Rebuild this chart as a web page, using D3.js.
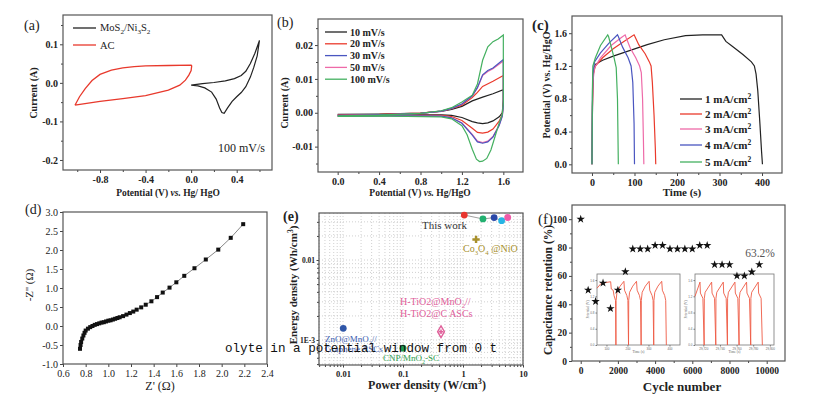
<!DOCTYPE html>
<html>
<head>
<meta charset="utf-8">
<script src="https://cdn.jsdelivr.net/npm/d3@7"></script>
<style>
body{margin:0;background:#fff;}
</style>
</head>
<body>
<svg id="fig" width="814" height="398"></svg>
<script>
// ---- (a) CV at 100 mV/s, [potential V, current A]
const cvAC = [[-1.02,-0.058],[-0.98,-0.036],[-0.93,-0.015],[-0.87,0.006],[-0.8,0.022],[-0.7,0.033],[-0.6,0.039],[-0.5,0.042],[-0.4,0.044],[-0.2,0.045],[0,0.046],[0.005,0.044],[0,0.032],[-0.02,0.02],[-0.05,0.007],[-0.1,-0.006],[-0.2,-0.019],[-0.4,-0.033],[-0.6,-0.041],[-0.8,-0.048],[-1.02,-0.058]];
const cvMoS = [[0,-0.006],[0.05,-0.004],[0.1,-0.002],[0.2,0.001],[0.3,0.005],[0.38,0.011],[0.44,0.019],[0.48,0.03],[0.52,0.05],[0.56,0.077],[0.6,0.11],[0.58,0.07],[0.55,0.04],[0.52,0.015],[0.48,-0.01],[0.44,-0.025],[0.4,-0.036],[0.36,-0.048],[0.32,-0.065],[0.29,-0.079],[0.27,-0.077],[0.25,-0.065],[0.22,-0.042],[0.18,-0.024],[0.12,-0.013],[0.06,-0.008],[0,-0.006]];

// ---- (b) CV at several scan rates
const cv10 = [[0,-0.0005],[0.4,-0.0004],[0.8,-0.0001],[1.0,0.0004],[1.1,0.001],[1.2,0.0019],[1.3,0.0035],[1.4,0.0046],[1.5,0.0056],[1.6,0.0068],[1.6,0.004],[1.59,0],[1.56,-0.0012],[1.5,-0.0024],[1.45,-0.003],[1.4,-0.0032],[1.35,-0.003],[1.3,-0.0026],[1.2,-0.0014],[1.1,-0.0008],[1.0,-0.0006],[0.5,-0.0006],[0,-0.0007]];
const cv20 = [[0,-0.0006],[0.4,-0.0005],[0.8,-0.0001],[1.0,0.0005],[1.1,0.0012],[1.2,0.0022],[1.3,0.0045],[1.35,0.006],[1.4,0.0078],[1.5,0.0093],[1.6,0.011],[1.6,0.003],[1.59,-0.0005],[1.56,-0.0025],[1.5,-0.0048],[1.45,-0.0057],[1.4,-0.006],[1.35,-0.0058],[1.3,-0.0046],[1.2,-0.0023],[1.1,-0.0011],[1.0,-0.0008],[0.5,-0.0008],[0,-0.0009]];
const cv30 = [[0,-0.0008],[0.4,-0.0006],[0.8,-0.0002],[1.0,0.0005],[1.1,0.0013],[1.2,0.0026],[1.3,0.005],[1.35,0.0075],[1.4,0.0112],[1.45,0.0125],[1.5,0.0132],[1.6,0.0157],[1.6,0.002],[1.59,-0.001],[1.56,-0.0038],[1.5,-0.0072],[1.45,-0.0086],[1.4,-0.009],[1.35,-0.0086],[1.3,-0.0066],[1.2,-0.0031],[1.1,-0.0015],[1.0,-0.001],[0.5,-0.0009],[0,-0.001]];
const cv50 = [[0,-0.0008],[0.4,-0.0006],[0.8,-0.0002],[1.0,0.0005],[1.1,0.0013],[1.2,0.0026],[1.3,0.005],[1.35,0.0073],[1.4,0.011],[1.45,0.0122],[1.5,0.013],[1.6,0.0153],[1.6,0.002],[1.59,-0.001],[1.56,-0.0036],[1.5,-0.007],[1.45,-0.0084],[1.4,-0.0088],[1.35,-0.0084],[1.3,-0.0064],[1.2,-0.003],[1.1,-0.0015],[1.0,-0.001],[0.5,-0.0009],[0,-0.001]];
const cv100 = [[0,-0.0009],[0.4,-0.0007],[0.8,-0.0002],[1.0,0.0006],[1.1,0.0015],[1.2,0.0032],[1.3,0.0052],[1.35,0.0085],[1.4,0.0155],[1.45,0.0195],[1.5,0.021],[1.55,0.0218],[1.6,0.023],[1.6,0.003],[1.59,-0.0005],[1.56,-0.003],[1.52,-0.007],[1.48,-0.011],[1.44,-0.0135],[1.4,-0.0143],[1.37,-0.0144],[1.34,-0.0137],[1.3,-0.0108],[1.25,-0.0065],[1.2,-0.0038],[1.1,-0.0018],[1.0,-0.0012],[0.5,-0.001],[0,-0.0011]];
const cvNames = ['10 mV/s','20 mV/s','30 mV/s','50 mV/s','100 mV/s'];

// ---- (c) charge / discharge, [time s, potential V]
const gcd1 = [[0,0],[1,0.6],[2,1.0],[4,1.15],[8,1.22],[25,1.27],[50,1.32],[90,1.39],[130,1.46],[170,1.52],[220,1.57],[260,1.58],[305,1.58],[315,1.5],[330,1.44],[355,1.34],[375,1.25],[382,1.2],[386,1.1],[390,0.9],[395,0.5],[399,0.15],[401,0]];
const gcd2 = [[0,0],[1,0.7],[3,1.1],[8,1.2],[25,1.3],[50,1.41],[75,1.5],[99,1.58],[101,1.56],[110,1.46],[125,1.35],[135,1.25],[139,1.2],[142,1.0],[146,0.6],[149,0.2],[150,0]];
const gcd3 = [[0,0],[1,0.6],[2,1.0],[6,1.18],[20,1.3],[45,1.45],[70,1.55],[78,1.58],[80,1.55],[90,1.42],[103,1.3],[112,1.2],[116,1.12],[119,0.8],[121,0.3],[122,0]];
const gcd4 = [[0,0],[1,0.8],[2,1.1],[6,1.25],[20,1.36],[40,1.48],[60,1.58],[62,1.56],[72,1.43],[85,1.3],[92,1.2],[96,1.0],[99,0.5],[100,0]];
const gcd5 = [[0,0],[1,0.9],[2,1.2],[8,1.3],[20,1.45],[37,1.58],[39,1.56],[46,1.42],[52,1.3],[57,1.18],[60,0.8],[62,0]];
const gcdNames = ['1','2','3','4','5'];

// ---- (d) Nyquist
const zRe = [0.75,0.755,0.76,0.77,0.78,0.79,0.80,0.82,0.84,0.86,0.88,0.90,0.92,0.94,0.96,0.98,1.00,1.02,1.04,1.06,1.08,1.10,1.13,1.16,1.19,1.22,1.25,1.29,1.33,1.38,1.43,1.48,1.54,1.60,1.67,1.76,1.86,1.97,2.08,2.19];
const zIm = [-0.6,-0.5,-0.42,-0.33,-0.25,-0.18,-0.12,-0.07,-0.03,0.0,0.03,0.05,0.07,0.09,0.10,0.12,0.14,0.15,0.17,0.19,0.21,0.23,0.26,0.30,0.34,0.38,0.43,0.49,0.56,0.65,0.76,0.88,1.01,1.15,1.32,1.52,1.75,2.01,2.32,2.68];

// ---- (e) Ragone
const workP = [1.05,2.15,3.3,4.4,5.56];
const workE = [0.0365,0.0326,0.0339,0.031,0.034];
const workColors = ['#e8352e','#22b070','#2a48a8','#28b4e4','#f05aa8'];

// ---- (f) cycling
const cycles = [0,400,800,1200,1600,2000,2400,2800,3200,3600,4000,4400,4800,5200,5600,6000,6400,6800,7200,7600,8000,8400,8800,9200,9600];
const retention = [100,50,42,55,37,50,63,79,79,79,81.5,81.5,79,79,79,79,81.5,81.5,68,68,68,60,60,62.8,68];
const insetFirst = [[55,1.40],[75,1.52],[120,1.56],[123,1.38],[132,1.35],[136,1.22],[143,1.1],[145,0],
  [146,1.1],[150,1.3],[165,1.45],[183,1.57],[186,1.35],[197,1.22],[202,1.1],[205,0],
  [206,1.1],[210,1.3],[225,1.45],[243,1.57],[246,1.35],[257,1.22],[262,1.1],[265,0],
  [266,1.1],[270,1.3],[285,1.45],[303,1.57],[306,1.35],[317,1.22],[322,1.1],[325,0],
  [326,1.1],[330,1.3],[345,1.45],[363,1.57],[366,1.35],[377,1.22],[382,1.1],[385,0]];
const insetLast = [[29710,1.2],[29716,1.55],[29716.5,1.28],[29719.5,1.15],[29721,0],
  [29721.2,1.15],[29722.2,1.3],[29730,1.55],[29730.5,1.28],[29733.5,1.15],[29735,0],
  [29735.2,1.15],[29736.2,1.3],[29744,1.55],[29744.5,1.28],[29747.5,1.15],[29749,0],
  [29749.2,1.15],[29750.2,1.3],[29758,1.55],[29758.5,1.28],[29761.5,1.15],[29763,0],
  [29763.2,1.15],[29764.2,1.3],[29772,1.55],[29772.5,1.28],[29775.5,1.15],[29777,0],
  [29777.2,1.15],[29778.2,1.3],[29786,1.55],[29786.5,1.28],[29789.5,1.15],[29791,0]];

const svg = d3.select('#fig');
const SERIF = '"Liberation Serif","Times New Roman",serif';

// text with sub / sup / italic pieces
function rich(sel, parts, size){
    let off = 0;
    parts.forEach(p => {
        const kind = p[1] || '';
        const target = kind==='sub' ? size*0.3 : kind==='sup' ? -size*0.4 : 0;
        const t = sel.append('tspan').attr('dy', target-off).text(p[0]);
        off = target;
        if(kind==='sub' || kind==='sup') t.attr('font-size', size*0.68);
        if(kind==='i') t.attr('font-style','italic');
    });
    return sel;
}

function frame(b){
    svg.append('rect')
        .attr('x',b.x0).attr('y',b.y0)
        .attr('width',b.x1-b.x0).attr('height',b.y1-b.y0)
        .attr('fill','none').attr('stroke','#555').attr('stroke-width',1.2);
}

function axes(b, xs, ys, o){
    const styleAx = (g, size, weight) => {
        g.select('.domain').remove();
        g.attr('color','#444');
        g.selectAll('text')
            .attr('font-family',SERIF)
            .attr('font-size',size).attr('font-weight',weight).attr('fill','#222');
    };
    const w = o.weight || 'bold';
    const ts = o.tick || 3;
    const gx = svg.append('g').attr('transform',`translate(0,${b.y1})`)
        .call(d3.axisBottom(xs).tickValues(o.xTicks).tickFormat(o.xFmt).tickSize(ts).tickPadding(3));
    styleAx(gx, o.size, w);
    const gy = svg.append('g').attr('transform',`translate(${b.x0},0)`)
        .call(d3.axisLeft(ys).tickValues(o.yTicks).tickFormat(o.yFmt).tickSize(ts).tickPadding(o.yPad || 2));
    styleAx(gy, o.ySize || o.size, w);
    if(o.xMinor){
        const m = svg.append('g').attr('transform',`translate(0,${b.y1})`)
            .call(d3.axisBottom(xs).tickValues(o.xMinor).tickFormat('').tickSize(2));
        styleAx(m, o.size, w);
    }
    if(o.yMinor){
        const m = svg.append('g').attr('transform',`translate(${b.x0},0)`)
            .call(d3.axisLeft(ys).tickValues(o.yMinor).tickFormat('').tickSize(2));
        styleAx(m, o.size, w);
    }
    frame(b);
}

function label(x, y, parts, size, opt={}){
    const t = svg.append('text')
        .attr('x',x).attr('y',y)
        .attr('font-family',SERIF)
        .attr('font-size',size)
        .attr('font-weight',opt.weight || 'bold')
        .attr('text-anchor',opt.anchor || 'middle')
        .attr('fill',opt.color || '#222');
    if(opt.rotate) t.attr('transform',`rotate(-90,${x},${y})`);
    return rich(t, parts, size);
}

const curve = (xs, ys) => d3.line().x(d => xs(d[0])).y(d => ys(d[1]));
const fix = n => d => d.toFixed(n);

// ================= (a)
{
    const b = {x0:63, x1:272, y0:15, y1:170};
    const xs = d3.scaleLinear().domain([-1.125,0.71]).range([b.x0,b.x1]);
    const ys = d3.scaleLinear().domain([-0.226,0.176]).range([b.y1,b.y0]);
    axes(b, xs, ys, {xTicks:[-0.8,-0.4,0,0.4], xFmt:fix(1), yTicks:[-0.2,-0.1,0,0.1], yFmt:fix(1),
        xMinor:[-1.0,-0.6,-0.2,0.2,0.6], yMinor:[-0.15,-0.05,0.05,0.15], size:10});
    svg.append('path').attr('d',curve(xs,ys)(cvAC)).attr('fill','none').attr('stroke','#e8392c').attr('stroke-width',1.3);
    svg.append('path').attr('d',curve(xs,ys)(cvMoS)).attr('fill','none').attr('stroke','#222').attr('stroke-width',1.2);
    [['#222',28],['#e8392c',45]].forEach(([c,y]) => {
        svg.append('line').attr('x1',73).attr('x2',96).attr('y1',y).attr('y2',y).attr('stroke',c).attr('stroke-width',1.3);
    });
    label(100, 31, [['MoS'],['2','sub'],['/Ni'],['3','sub'],['S'],['2','sub']], 10.5, {anchor:'start',weight:'normal'});
    label(100, 49, [['AC']], 10.5, {anchor:'start',weight:'normal'});
    label(265, 152, [['100 mV/s']], 12, {anchor:'end',weight:'normal'});
    label(24, 30, [['(a)']], 14, {anchor:'start',weight:'normal'});
    label(37, 93, [['Current (A)']], 10, {rotate:true});
    label(168, 196, [['Potential (V) '],['vs.','i'],[' Hg/ HgO']], 9.5);
}

// ================= (b)
{
    const b = {x0:318, x1:523, y0:19, y1:172};
    const xs = d3.scaleLinear().domain([-0.19,1.79]).range([b.x0,b.x1]);
    const ys = d3.scaleLinear().domain([-0.0175,0.0277]).range([b.y1,b.y0]);
    axes(b, xs, ys, {xTicks:[0,0.4,0.8,1.2,1.6], xFmt:fix(1), yTicks:[-0.01,0,0.01,0.02], yFmt:fix(2),
        xMinor:[0.2,0.6,1.0,1.4], yMinor:[-0.015,-0.005,0.005,0.015,0.025], size:10});
    const sets = [cv10, cv20, cv50, cv30, cv100];
    const cols = ['#222','#ea3a2c','#ee6aa8','#4a56c0','#44b060'];
    sets.forEach((s,i) => {
        svg.append('path').attr('d',curve(xs,ys)(s)).attr('fill','none').attr('stroke',cols[i]).attr('stroke-width',1.2);
    });
    const legCols = ['#222','#ea3a2c','#4a56c0','#ee6aa8','#44b060'];
    cvNames.forEach((n,i) => {
        const y = 32 + i*11.8;
        svg.append('line').attr('x1',325).attr('x2',347).attr('y1',y).attr('y2',y).attr('stroke',legCols[i]).attr('stroke-width',1.3);
        label(350, y+3.5, [[n]], 10, {anchor:'start'});
    });
    label(277, 27, [['(b)']], 14, {anchor:'start',weight:'normal'});
    label(288, 103, [['Current (A)']], 10, {rotate:true});
    label(420, 196, [['Potential (V) '],['vs.','i'],[' Hg/HgO']], 9.5);
}

// ================= (c)
{
    const b = {x0:572, x1:782, y0:16, y1:173};
    const xs = d3.scaleLinear().domain([-47,447]).range([b.x0,b.x1]);
    const ys = d3.scaleLinear().domain([-0.106,1.81]).range([b.y1,b.y0]);
    axes(b, xs, ys, {xTicks:[0,100,200,300,400], xFmt:d3.format('d'), yTicks:[0,0.4,0.8,1.2,1.6], yFmt:fix(1),
        xMinor:[50,150,250,350], yMinor:[0.2,0.6,1.0,1.4], size:10});
    const sets = [gcd1, gcd2, gcd3, gcd4, gcd5];
    const cols = ['#222','#ea3a2c','#ee6aa8','#4a56c0','#44b060'];
    sets.forEach((s,i) => {
        svg.append('path').attr('d',curve(xs,ys)(s)).attr('fill','none').attr('stroke',cols[i]).attr('stroke-width',1.2);
    });
    gcdNames.forEach((n,i) => {
        const y = [99,114,129,145,162][i];
        svg.append('line').attr('x1',680).attr('x2',702).attr('y1',y).attr('y2',y).attr('stroke',cols[i]).attr('stroke-width',1.3);
        label(705, y+4, [[n+' mA/cm'],['2','sup']], 11, {anchor:'start'});
    });
    label(532, 30, [['(c)']], 15, {anchor:'start'});
    label(550, 85, [['Potential (V) vs. Hg/HgO']], 10, {rotate:true});
    label(682, 196, [['Time (s)']], 11);
}

// ================= (d)
{
    const b = {x0:63, x1:267, y0:212, y1:364};
    const xs = d3.scaleLinear().domain([0.6,2.4]).range([b.x0,b.x1]);
    const ys = d3.scaleLinear().domain([-1,3]).range([b.y1,b.y0]);
    axes(b, xs, ys, {xTicks:d3.range(0.6,2.41,0.2), xFmt:fix(1), yTicks:d3.range(-1,3.01,0.5), yFmt:fix(1), size:10, weight:'normal'});
    const pts = zRe.map((x,i) => [x, zIm[i]]);
    svg.append('path').attr('d',curve(xs,ys)(pts)).attr('fill','none').attr('stroke','#888').attr('stroke-width',1);
    svg.selectAll('rect.eis').data(pts).enter().append('rect')
        .attr('class','eis')
        .attr('x', d => xs(d[0])-2).attr('y', d => ys(d[1])-2)
        .attr('width',4).attr('height',4).attr('fill','#111');
    label(25, 214, [['(d)']], 14, {anchor:'start',weight:'normal'});
    label(33, 285, [['-Z\'\' (\u03a9)']], 11, {rotate:true,weight:'normal'});
    label(160, 390, [['Z\' (\u03a9)']], 12, {weight:'normal'});
}

// ================= (e)
{
    const b = {x0:319, x1:523, y0:213, y1:365};
    const xs = d3.scaleLog().domain([0.00398,10]).range([b.x0,b.x1]);
    const ys = d3.scaleLog().domain([0.000487,0.0387]).range([b.y1,b.y0]);
    const gx = xs.ticks(), gy = ys.ticks();
    svg.append('g').selectAll('line').data(gx).enter().append('line')
        .attr('x1',d => xs(d)).attr('x2',d => xs(d)).attr('y1',b.y0).attr('y2',b.y1)
        .attr('stroke','#c4c4c4').attr('stroke-width',0.8).attr('stroke-dasharray','1,2');
    svg.append('g').selectAll('line').data(gy).enter().append('line')
        .attr('y1',d => ys(d)).attr('y2',d => ys(d)).attr('x1',b.x0).attr('x2',b.x1)
        .attr('stroke','#c4c4c4').attr('stroke-width',0.8).attr('stroke-dasharray','1,2');
    axes(b, xs, ys, {xTicks:[0.01,0.1,1,10], xFmt:d => String(d), yTicks:[0.001,0.01], yFmt:d => d===0.001 ? '1E-3' : '0.01',
        xMinor:gx, yMinor:gy, size:8.5, ySize:7.5, tick:2.5, yPad:1.5});
    const work = workP.map((p,i) => [p, workE[i]]);
    svg.append('path').attr('d',curve(xs,ys)(work)).attr('fill','none').attr('stroke','#888').attr('stroke-width',0.8);
    work.forEach((d,i) => {
        svg.append('circle').attr('cx',xs(d[0])).attr('cy',ys(d[1])).attr('r',3.4).attr('fill',workColors[i]);
    });
    svg.append('circle').attr('cx',xs(0.0101)).attr('cy',ys(0.0014)).attr('r',3.4).attr('fill','#2f56a8');
    svg.append('circle').attr('cx',xs(0.1)).attr('cy',ys(0.00079)).attr('r',3.4).attr('fill','#1e9a50');
    svg.append('path').attr('transform',`translate(${xs(1.65)},${ys(0.0181)})`)
        .attr('d',d3.symbol(d3.symbolCross).size(30)()).attr('fill','#a8902c');
    svg.append('path').attr('transform',`translate(${xs(0.43)},${ys(0.00127)})`)
        .attr('d',d3.symbol(d3.symbolDiamond).size(40)()).attr('fill','none').attr('stroke','#e0609a').attr('stroke-width',1.4);
    svg.append('path').attr('transform',`translate(${xs(0.43)},${ys(0.00127)})`)
        .attr('d',d3.symbol(d3.symbolCross).size(12)()).attr('fill','#e0609a');
    label(422, 229, [['This work']], 11, {anchor:'start',weight:'normal',color:'#333'});
    label(463, 252, [['Co'],['3','sub'],['O'],['4','sub'],[' @NiO']], 10, {anchor:'start',weight:'normal',color:'#a8902c'});
    label(400, 305, [['H-TiO2@MnO'],['2','sub'],['//']], 10, {anchor:'start',weight:'normal',color:'#e0609a'});
    label(400, 317, [['H-TiO2@C ASCs']], 10, {anchor:'start',weight:'normal',color:'#e0609a'});
    label(325, 342, [['ZnO@MnO'],['2','sub'],['//']], 9, {anchor:'start',weight:'normal',color:'#4060b0'});
    label(325, 352, [['Graphene ASCs']], 9, {anchor:'start',weight:'normal',color:'#4060b0'});
    label(383, 361, [['CNP/MnO'],['2','sub'],['-SC']], 9, {anchor:'start',weight:'normal',color:'#30a050'});
    label(283, 221, [['(e)']], 14, {anchor:'start'});
    label(297, 285, [['Energy density (Wh/cm'],['3','sup'],[')']], 11, {rotate:true});
    label(427, 389, [['Power density (W/cm'],['3','sup'],[')']], 12);
}

// ================= (f)
{
    const b = {x0:572, x1:785, y0:205, y1:361};
    const xs = d3.scaleLinear().domain([-468,10984]).range([b.x0,b.x1]);
    const ys = d3.scaleLinear().domain([0,110]).range([b.y1,b.y0]);
    axes(b, xs, ys, {xTicks:[0,2000,4000,6000,8000,10000], xFmt:d3.format('d'), yTicks:[0,20,40,60,80,100], yFmt:d3.format('d'),
        xMinor:[1000,3000,5000,7000,9000], yMinor:[10,30,50,70,90], size:9.5});

    // insets
    const insets = [
        {box:{x0:597,x1:680,y0:274,y1:345}, dom:[55,450], data:insetFirst, ticks:[100,200,300,400]},
        {box:{x0:695,x1:774,y0:274,y1:345}, dom:[29710,29805], data:insetLast, ticks:[29720,29740,29760,29780,29800]}
    ];
    insets.forEach(ins => {
        const ib = ins.box;
        svg.append('rect').attr('x',ib.x0).attr('y',ib.y0).attr('width',ib.x1-ib.x0).attr('height',ib.y1-ib.y0)
            .attr('fill','#fff').attr('stroke','#777').attr('stroke-width',0.8);
        const ix = d3.scaleLinear().domain(ins.dom).range([ib.x0,ib.x1]);
        const iy = d3.scaleLinear().domain([0,1.75]).range([ib.y1,ib.y0]);
        const ax = svg.append('g').attr('transform',`translate(0,${ib.y1})`)
            .call(d3.axisBottom(ix).tickValues(ins.ticks).tickSize(1.5).tickPadding(1));
        const ay = svg.append('g').attr('transform',`translate(${ib.x0},0)`)
            .call(d3.axisLeft(iy).tickValues([0,0.4,0.8,1.2,1.6]).tickFormat(fix(1)).tickSize(1.5).tickPadding(1));
        [ax, ay].forEach(g => {
            g.select('.domain').remove();
            g.attr('color','#777');
            g.selectAll('text').attr('font-size',3).attr('fill','#666');
        });
        svg.append('path').attr('d',curve(ix,iy)(ins.data)).attr('fill','none').attr('stroke','#ee5a44').attr('stroke-width',0.9);
        label(ib.x0-8, (ib.y0+ib.y1)/2, [['Potential (V)']], 3.5, {rotate:true,weight:'normal',color:'#666'});
        label((ib.x0+ib.x1)/2, ib.y1+8, [['Time (s)']], 3.5, {weight:'normal',color:'#666'});
    });

    svg.selectAll('path.star').data(cycles).enter().append('path')
        .attr('class','star')
        .attr('transform',(d,i) => `translate(${xs(d)},${ys(retention[i])})`)
        .attr('d',d3.symbol(d3.symbolStar).size(22)())
        .attr('fill','#111');
    label(760, 257, [['63.2%']], 11.5, {weight:'normal',color:'#555'});
    label(538, 224, [['(f)']], 15, {anchor:'start',weight:'normal'});
    label(552, 290, [['Capacitance retention (%)']], 11.5, {rotate:true});
    label(682, 391, [['Cycle number']], 13);
}

// stray caption line lying over the figure
svg.append('text')
    .attr('x',225).attr('y',352)
    .attr('font-family','"Liberation Mono","DejaVu Sans Mono",monospace')
    .attr('font-size',12.6)
    .attr('fill','#111')
    .text('olyte in a potential window from 0 t');
</script>
</body>
</html>
